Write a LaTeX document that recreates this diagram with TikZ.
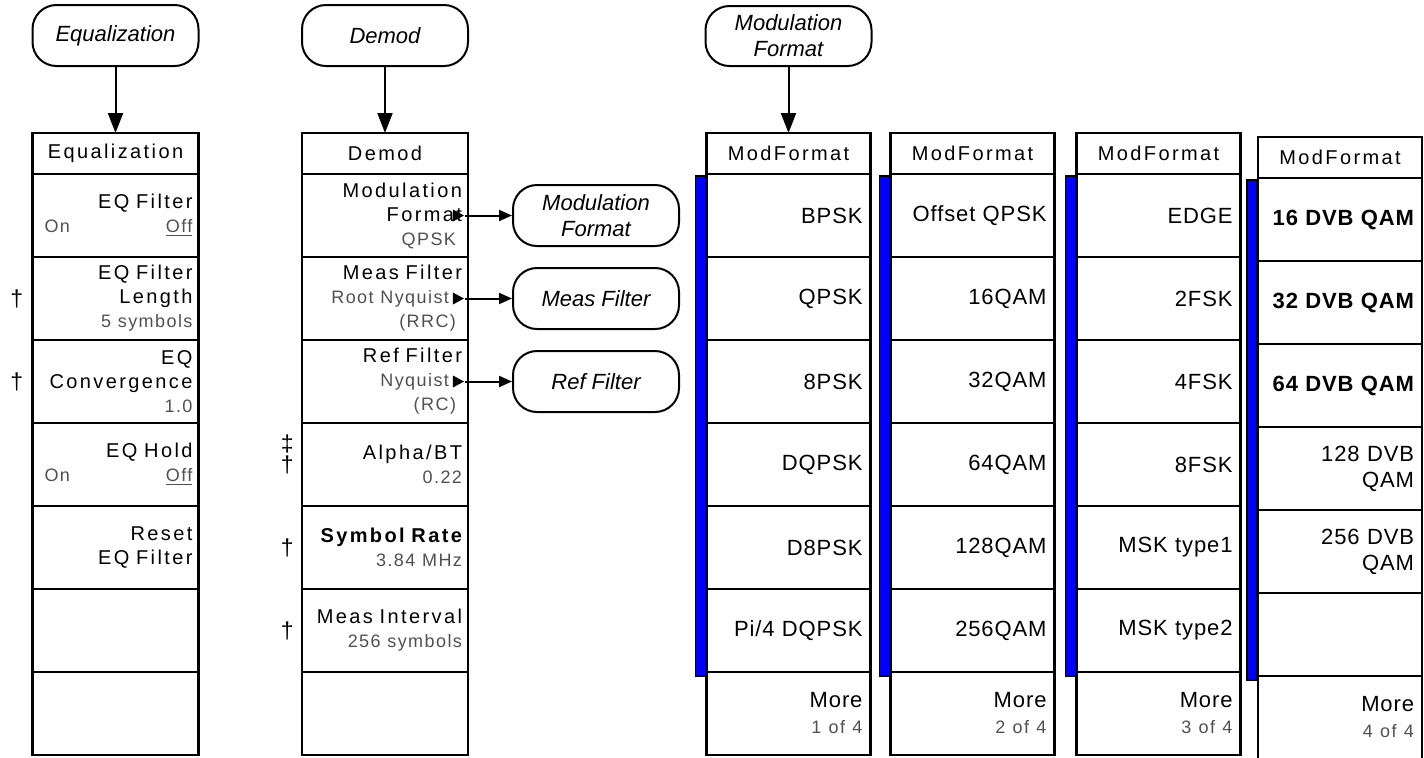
\documentclass[tikz,border=0pt]{standalone}
\usepackage{fontspec}
\setmainfont{Liberation Sans}
\newfontfamily\keyfont[LetterSpace=12]{Liberation Sans}
\newfontfamily\valfont[LetterSpace=8]{Liberation Sans}
\newfontfamily\modfont[LetterSpace=4]{Liberation Sans}
\usetikzlibrary{arrows.meta,positioning,shapes.geometric}
\definecolor{valgray}{HTML}{505050}
\definecolor{barblue}{HTML}{0000FF}
\newcommand{\val}[1]{{\valfont\fontsize{9}{12}\selectfont\color{valgray}#1}}

\tikzset{
  menutitle/.style={draw, line width=1.1pt, minimum width=83pt, minimum height=20.5pt,
    inner sep=0pt, outer sep=0pt, font=\keyfont\fontsize{10}{12}\selectfont},
  softkey/.style={draw, line width=1.1pt, minimum width=83pt, minimum height=41.5pt,
    text width=77pt, inner xsep=3pt, inner ysep=0pt, outer sep=0pt, align=right,
    font=\keyfont\fontsize{10}{12}\selectfont},
  modkey/.style={softkey, minimum width=82pt, text width=74pt, inner xsep=4pt,
    font=\modfont\fontsize{11}{13}\selectfont},
  keyoval/.style={draw, line width=1pt, rounded corners=12pt, minimum width=83pt,
    minimum height=30.5pt, inner sep=1pt, align=center, font=\itshape\fontsize{11}{13}\selectfont},
  tip/.style={isosceles triangle, isosceles triangle stretches, fill, inner sep=0pt,
    minimum width=6pt, minimum height=5.5pt},
  note/.style={inner sep=0pt, font=\fontsize{11.5}{12}\selectfont},
  downarrow/.style={line width=1pt, -{Triangle[length=10pt,width=7.5pt]}},
  subarrow/.style={line width=1pt, -{Triangle[length=6.5pt,width=5.5pt]}},
  selbar/.style={draw, line width=0.8pt, fill=barblue}
}

\begin{document}
\begin{tikzpicture}[x=0.5pt, y=-0.5pt]
  \useasboundingbox (0,0) rectangle (1424,757);

  % Equalization menu
  \node[menutitle, anchor=north] (eqtitle) at (115.5,133) {Equalization};
  \node[softkey, below=0pt of eqtitle] (eq1) {EQ Filter\\\val{\hspace*{3pt}On\hfill\underline{Off}}};
  \node[softkey, below=0pt of eq1] (eq2) {EQ Filter\\Length\\\val{5 symbols}};
  \node[softkey, below=0pt of eq2] (eq3) {EQ\hspace*{6pt}\\Convergence\\\val{1.0}};
  \node[softkey, below=0pt of eq3] (eq4) {EQ Hold\\\val{\hspace*{3pt}On\hfill\underline{Off}}};
  \node[softkey, below=0pt of eq4] (eq5) {Reset\\EQ Filter};
  \node[softkey, below=0pt of eq5] (eq6) {};
  \node[softkey, below=0pt of eq6] (eq7) {};
  \node[note, left=4.5pt of eq2] (eqdag2) {†};
  \node[note, left=4.5pt of eq3] (eqdag3) {†};

  \node[keyoval, above=33pt of eqtitle] (eqoval) {Equalization};
  \draw[downarrow] (eqoval) -- (eqtitle);

  % Demod menu
  \node[menutitle, anchor=north] (dmtitle) at (385,133) {Demod};
  \node[softkey, below=0pt of dmtitle] (dm1) {Modulation\hspace*{2pt}\\Format\hspace*{6.5pt}\\\val{QPSK\hspace*{3pt}}};
  \node[softkey, below=0pt of dm1] (dm2) {Meas Filter\hspace*{3pt}\\\val{Root Nyquist\hspace*{6.5pt}}\\\val{(RRC)\hspace*{3pt}}};
  \node[softkey, below=0pt of dm2] (dm3) {Ref Filter\hspace*{3pt}\\\val{Nyquist\hspace*{6.5pt}}\\\val{(RC)\hspace*{3pt}}};
  \node[softkey, below=0pt of dm3] (dm4) {Alpha/BT\hspace*{3pt}\\\val{0.22}};
  \node[softkey, below=0pt of dm4] (dm5) {{\bfseries Symbol Rate}\\\val{3.84 MHz}};
  \node[softkey, below=0pt of dm5] (dm6) {Meas Interval\\\val{256 symbols}};
  \node[softkey, below=0pt of dm6] (dm7) {};
  \node[note, left=4pt of dm4] (dmdag4) {†};
  \node[note, above=1pt of dmdag4] (dmddag4) {‡};
  \node[note, left=4pt of dm5] (dmdag5) {†};
  \node[note, left=4pt of dm6] (dmdag6) {†};

  \node[keyoval, above=33pt of dmtitle] (dmoval) {Demod};
  \draw[downarrow] (dmoval) -- (dmtitle);

  % submenu keys
  \node[tip, left=1.5pt of dm1.east] (dm1tip) {};
  \node[tip, left=1.5pt of dm2.east] (dm2tip) {};
  \node[tip, left=1.5pt of dm3.east] (dm3tip) {};
  \node[keyoval, right=23.5pt of dm1tip] (mfside) {Modulation\\Format};
  \node[keyoval, right=23.5pt of dm2tip] (measside) {Meas Filter};
  \node[keyoval, right=23.5pt of dm3tip] (refside) {Ref Filter};
  \draw[subarrow] (dm1tip) -- (mfside);
  \draw[subarrow] (dm2tip) -- (measside);
  \draw[subarrow] (dm3tip) -- (refside);

  % ModFormat menus, pages 1 to 4
  \node[menutitle, minimum width=82pt, anchor=north] (mfat) at (788.5,133) {ModFormat};
  \node[menutitle, minimum width=82pt, anchor=north] (mfbt) at (972.5,133) {ModFormat};
  \node[menutitle, minimum width=82pt, anchor=north] (mfct) at (1158.5,133) {ModFormat};
  \node[menutitle, minimum width=82pt, anchor=north] (mfdt) at (1340,137) {ModFormat};

  \foreach \lab [count=\i] in {BPSK,QPSK,8PSK,DQPSK,D8PSK,Pi/4 DQPSK,{More\hspace*{-3.5pt}\\\val{1 of 4}}}
    \node[modkey, anchor=north, yshift={-(\i-1)*41.5pt}] (mfa\i) at (mfat.south) {\lab};
  \foreach \lab [count=\i] in {Offset QPSK,16QAM,32QAM,64QAM,128QAM,256QAM,{More\hspace*{-3.5pt}\\\val{2 of 4}}}
    \node[modkey, anchor=north, yshift={-(\i-1)*41.5pt}] (mfb\i) at (mfbt.south) {\lab};
  \foreach \lab [count=\i] in {EDGE,2FSK,4FSK,8FSK,MSK type1,MSK type2,{More\hspace*{-3.5pt}\\\val{3 of 4}}}
    \node[modkey, anchor=north, yshift={-(\i-1)*41.5pt}] (mfc\i) at (mfct.south) {\lab};
  \foreach \lab [count=\i] in {{\bfseries 16 DVB QAM},{\bfseries 32 DVB QAM},{\bfseries 64 DVB QAM},{128 DVB\\QAM},{256 DVB\\QAM},{},{More\hspace*{-3.5pt}\\\val{4 of 4}}}
    \node[modkey, anchor=north, yshift={-(\i-1)*41.5pt}] (mfd\i) at (mfdt.south) {\lab};

  \foreach \m in {a,b,c,d}
    \draw[selbar] ([xshift=-5.5pt,yshift=-1pt]mf\m1.north west) rectangle ([xshift=-0.5pt,yshift=-2pt]mf\m6.south west);

  \node[keyoval, minimum height=30pt, above=33pt of mfat] (mfoval) {Modulation\\Format};
  \draw[downarrow] (mfoval) -- (mfat);
\end{tikzpicture}
\end{document}
